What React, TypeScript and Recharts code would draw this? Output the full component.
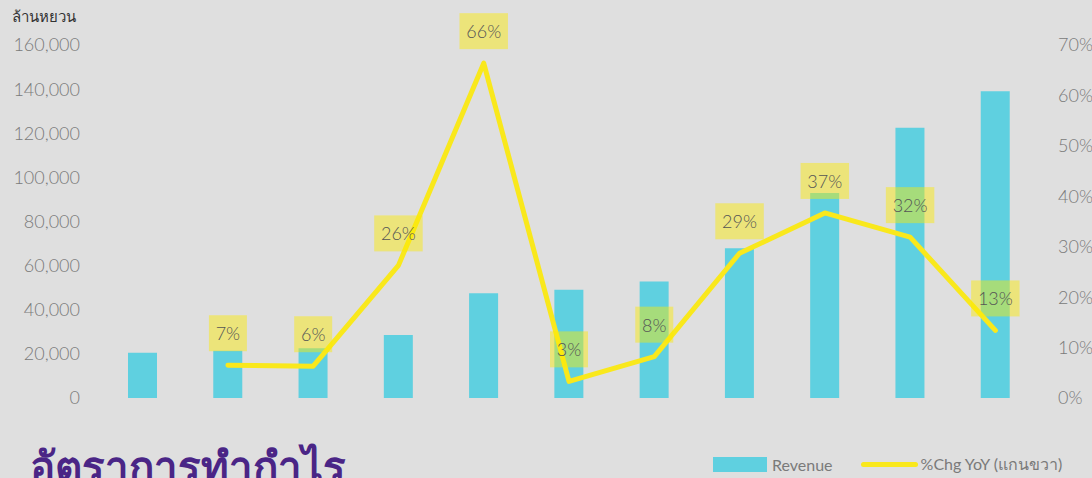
import { ComposedChart, Bar, Line, XAxis, YAxis, LabelList } from "recharts";

// revenue (million yuan) per period
const periods = ["P1", "P2", "P3", "P4", "P5", "P6", "P7", "P8", "P9", "P10", "P11"];
const revenue = [20500, 21400, 22500, 28600, 47500, 49100, 52800, 67900, 92900, 122500, 139000];
// % change year on year (right axis), first period has none
const yoy = [null, 6.5, 6.3, 26.3, 66.4, 3.3, 8.2, 28.7, 36.7, 31.9, 13.4];

const leftTicks = [0, 20000, 40000, 60000, 80000, 100000, 120000, 140000, 160000];
const rightTicks = [0, 10, 20, 30, 40, 50, 60, 70];

const data = periods.map((p, i) => ({ period: p, revenue: revenue[i], yoy: yoy[i] }));

const FONT = "Lato, 'Open Sans', sans-serif";
const BAR = "#5fd0e0";
const LINE = "#f9e81c";

const PctLabel = (props: any) => {
  const { x, y, value } = props;
  if (value == null) return null;
  const txt = `${Math.round(value)}%`;
  const w = txt.length * 10.5 + 17;
  const cy = y - 32;
  return (
    <g>
      <rect x={x - w / 2} y={cy - 18} width={w} height={36} fill="rgba(252,234,0,0.45)" />
      <text x={x} y={cy} textAnchor="middle" dominantBaseline="central" fill="#555" fontSize={18} fontFamily={FONT} fontWeight={300}>
        {txt}
      </text>
    </g>
  );
};

export default function App() {
  return (
    <div style={{ position: "absolute", left: 0, top: 0, width: 1092, height: 478, background: "#dfdfdf", overflow: "hidden", fontFamily: FONT }}>
      <div style={{ position: "absolute", left: 12, top: 5, fontSize: 15, color: "#333", fontWeight: 300 }}>ล้านหยวน</div>
      <ComposedChart width={1092} height={478} data={data} margin={{ top: 45, right: 0, bottom: 80, left: 0 }}>
        <XAxis dataKey="period" tick={false} tickLine={false} height={0} axisLine={{ stroke: "#d4d4d4", strokeWidth: 2 }} />
        <YAxis
          yAxisId="left"
          width={100}
          domain={[0, 160000]}
          ticks={leftTicks}
          tickFormatter={(v: number) => v.toLocaleString("en-US")}
          axisLine={false}
          tickLine={false}
          tickSize={0}
          tickMargin={20}
          tick={{ fill: "#7a7a7a", fontSize: 18, fontFamily: FONT, fontWeight: 300 }}
        />
        <YAxis
          yAxisId="right"
          orientation="right"
          width={54}
          domain={[0, 70]}
          ticks={rightTicks}
          tickFormatter={(v: number) => `${v}%`}
          axisLine={false}
          tickLine={false}
          tickSize={0}
          tickMargin={20}
          tick={{ fill: "#7a7a7a", fontSize: 18, fontFamily: FONT, fontWeight: 300, textAnchor: "start" }}
        />
        <Bar yAxisId="left" dataKey="revenue" fill={BAR} barSize={29} isAnimationActive={false} />
        <Line
          yAxisId="right"
          dataKey="yoy"
          stroke={LINE}
          strokeWidth={5}
          strokeLinecap="round"
          strokeLinejoin="round"
          dot={false}
          activeDot={false}
          isAnimationActive={false}
        >
          <LabelList dataKey="yoy" content={PctLabel} />
        </Line>
      </ComposedChart>
      <div style={{ position: "absolute", left: 713, top: 452, display: "flex", alignItems: "center", fontSize: 16, color: "#7a7a7a" }}>
        <span style={{ display: "inline-block", width: 54, height: 15, background: BAR, marginRight: 5 }} />
        <span style={{ marginRight: 28 }}>Revenue</span>
        <span style={{ display: "inline-block", width: 57, height: 5, borderRadius: 3, background: LINE, marginRight: 3 }} />
        <span>%Chg YoY (แกนขวา)</span>
      </div>
      <div style={{ position: "absolute", left: 30, top: 436, fontSize: 42, fontWeight: 700, color: "#4a2586", whiteSpace: "nowrap", lineHeight: "60px" }}>
        อัตราการทำกำไร
      </div>
    </div>
  );
}
